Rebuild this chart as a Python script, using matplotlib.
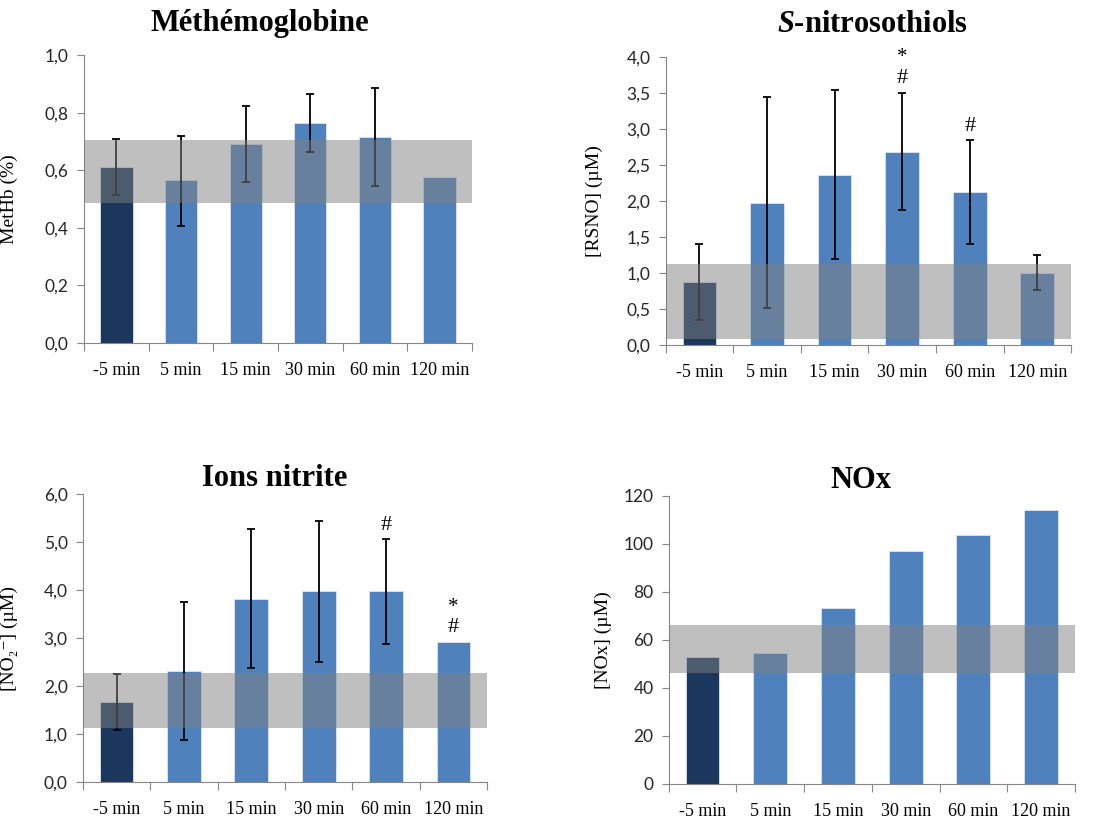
import numpy as np
import matplotlib
matplotlib.use("Agg")
import matplotlib.pyplot as plt

plt.rcParams['mathtext.fontset'] = 'custom'
plt.rcParams['mathtext.rm'] = 'Liberation Serif'
plt.rcParams['mathtext.it'] = 'Liberation Serif:italic:bold'
plt.rcParams['mathtext.bf'] = 'Liberation Serif:bold'

# Données
categories = ["-5 min", "5 min", "15 min", "30 min", "60 min", "120 min"]

methb = [0.61, 0.565, 0.69, 0.765, 0.715, 0.578]
methb_lo = [0.515, 0.405, 0.56, 0.665, 0.545, np.nan]
methb_hi = [0.71, 0.72, 0.822, 0.865, 0.885, np.nan]
methb_band = (0.485, 0.705)
methb_ticks = [0.0, 0.2, 0.4, 0.6, 0.8, 1.0]
methb_ticklabels = ["0,0", "0,2", "0,4", "0,6", "0,8", "1,0"]

rsno = [0.87, 1.98, 2.37, 2.69, 2.13, 1.00]
rsno_lo = [0.35, 0.52, 1.19, 1.88, 1.40, 0.77]
rsno_hi = [1.40, 3.45, 3.54, 3.51, 2.85, 1.25]
rsno_band = (0.08, 1.12)
rsno_ticks = [0.0, 0.5, 1.0, 1.5, 2.0, 2.5, 3.0, 3.5, 4.0]
rsno_ticklabels = ["0,0", "0,5", "1,0", "1,5", "2,0", "2,5", "3,0", "3,5", "4,0"]
rsno_marks = {3: ["#", "*"], 4: ["#"]}

nitrite = [1.66, 2.31, 3.82, 3.97, 3.97, 2.92]
nitrite_lo = [1.08, 0.88, 2.38, 2.49, 2.87, np.nan]
nitrite_hi = [2.25, 3.75, 5.27, 5.44, 5.06, np.nan]
nitrite_band = (1.13, 2.28)
nitrite_ticks = [0, 1, 2, 3, 4, 5, 6]
nitrite_ticklabels = ["0,0", "1,0", "2,0", "3,0", "4,0", "5,0", "6,0"]
nitrite_marks = {4: ["#"], 5: ["#", "*"]}

nox = [53, 54.7, 73.3, 97, 103.6, 114]
nox_band = (46, 66)
nox_ticks = [0, 20, 40, 60, 80, 100, 120]
nox_ticklabels = ["0", "20", "40", "60", "80", "100", "120"]

dark = "#1B375D"
blue = "#4F81BD"
axis_gray = "#868686"
serif = ["Liberation Serif", "DejaVu Serif"]

fig = plt.figure(figsize=(10.93, 8.19), dpi=100)


def panel(rect, vals, lo, hi, band, ticks, ticklabels, ylabel, labx, marks=None):
    ax = fig.add_axes(rect)
    x = np.arange(len(vals))
    colors = [dark] + [blue] * (len(vals) - 1)
    ax.bar(x, vals, width=0.5, color=colors, edgecolor="#DCE6F2", linewidth=0.6, zorder=2)
    if lo is not None:
        v = np.array(vals)
        yerr = [v - np.array(lo), np.array(hi) - v]
        ax.errorbar(x, v, yerr=yerr, fmt="none", ecolor="black", elinewidth=1.3,
                    capsize=2.6, capthick=1.3, zorder=3)
    ax.axhspan(band[0], band[1], color="#808080", alpha=0.5, lw=0, zorder=4)
    if marks:
        for i, syms in marks.items():
            top = hi[i] if not np.isnan(hi[i]) else vals[i]
            for k, s in enumerate(syms):
                ax.annotate(s, (x[i], top), xytext=(0, 10 + 15 * k), textcoords="offset points",
                            ha="center", va="center", fontsize=16 if s == "#" else 15,
                            family=serif, zorder=5)
    ax.set_xlim(-0.5, len(vals) - 0.5)
    ax.set_ylim(ticks[0], ticks[-1])
    ax.set_yticks(ticks)
    ax.set_yticklabels(ticklabels, family="Lato", fontsize=12.5, color="#262626")
    ax.set_xticks(np.arange(len(vals) + 1) - 0.5)
    ax.set_xticklabels([])
    ax.set_xticks(x, minor=True)
    ax.set_xticklabels(categories, minor=True, family=serif, fontsize=13)
    ax.tick_params(axis="x", which="major", length=6, color=axis_gray, direction="out")
    ax.tick_params(axis="x", which="minor", length=0, pad=14)
    ax.tick_params(axis="y", length=5, color=axis_gray, pad=6)
    for s in ["top", "right"]:
        ax.spines[s].set_visible(False)
    for s in ["left", "bottom"]:
        ax.spines[s].set_color(axis_gray)
    ax.set_ylabel(ylabel, family=serif, fontsize=14)
    ax.yaxis.set_label_coords(labx, 0.5)
    return ax


panel([0.0769, 0.5812, 0.3549, 0.3516], methb, methb_lo, methb_hi, methb_band,
      methb_ticks, methb_ticklabels, "MetHb (%)", -0.17)
panel([0.6090, 0.5788, 0.3710, 0.3512], rsno, rsno_lo, rsno_hi, rsno_band,
      rsno_ticks, rsno_ticklabels, "[RSNO] (µM)", -0.155, rsno_marks)
panel([0.0759, 0.0452, 0.3697, 0.3516], nitrite, nitrite_lo, nitrite_hi, nitrite_band,
      nitrite_ticks, nitrite_ticklabels, "[NO\u2082\u207b] (µM)", -0.16, nitrite_marks)
panel([0.6118, 0.0431, 0.3717, 0.3513], nox, None, None, nox_band,
      nox_ticks, nox_ticklabels, "[NOx] (µM)", -0.14)

title_kw = dict(ha="center", va="center", fontsize=22, fontweight="bold", family=serif)
fig.text(260 / 1093, 1 - 23 / 819, "Méthémoglobine", **title_kw)
fig.text(873 / 1093, 1 - 25 / 819, r"$\mathit{S}$-nitrosothiols", **title_kw)
fig.text(275 / 1093, 1 - 478 / 819, "Ions nitrite", **title_kw)
fig.text(861 / 1093, 1 - 480 / 819, "NOx", **title_kw)

fig.savefig("out.png", dpi=100)
